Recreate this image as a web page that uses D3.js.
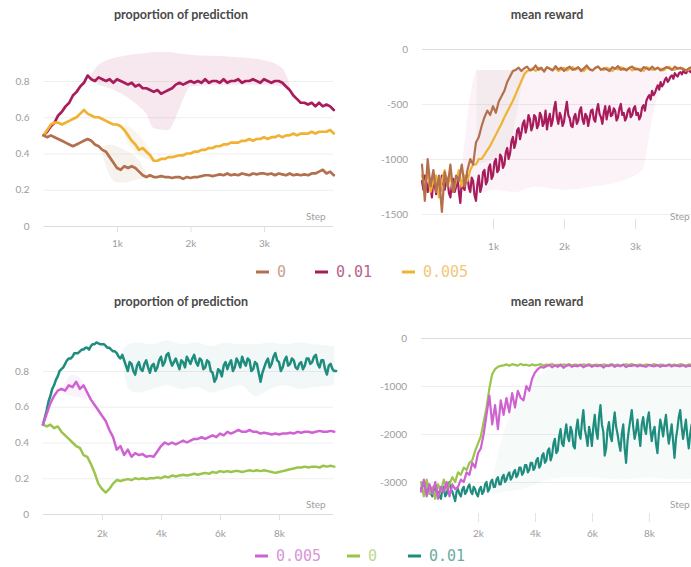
<!DOCTYPE html>
<html>
<head>
<meta charset="utf-8">
<script src="https://cdn.jsdelivr.net/npm/d3@7"></script>
<style>
  html, body { margin: 0; padding: 0; background: #fff; overflow: hidden; }
  svg { display: block; }
</style>
</head>
<body>
<svg id="chart" width="691" height="567"></svg>
<script>
// ---------- logging intervals (steps between recorded points) ----------
const STEP_TOP_PROP = 50;
const STEP_TOP_REWARD = 40;
const STEP_TOP_REWARD_FINE = 20;
const STEP_BOT_PROP = 125;
const STEP_BOT_PROP_FINE = 62.5;
const STEP_BOT_REWARD = 100;
const STEP_BOT_REWARD_FINE = 50;

// ---------- tick labels ----------
const propTicks = [0, 0.2, 0.4, 0.6, 0.8];
const topRewardTicks = [0, -500, -1000, -1500];
const botRewardTicks = [0, -1000, -2000, -3000];
const topStepTicks = [1000, 2000, 3000];
const botStepTicks = [2000, 4000, 6000, 8000];

// ---------- run groups ----------
const topRuns = ["0", "0.01", "0.005"];
const botRuns = ["0.005", "0", "0.01"];

// ---------- top row: proportion of prediction ----------
const topProp_0 = [
  0.50,0.49,0.50,0.49,0.48,0.47,0.46,0.45,0.44,0.45,
  0.46,0.47,0.48,0.47,0.45,0.44,0.42,0.41,0.38,0.35,
  0.32,0.31,0.33,0.32,0.33,0.32,0.30,0.28,0.27,0.28,
  0.27,0.27,0.275,0.27,0.27,0.265,0.27,0.27,0.26,0.27,
  0.265,0.27,0.27,0.275,0.28,0.28,0.275,0.28,0.285,0.28,
  0.29,0.28,0.285,0.28,0.29,0.285,0.28,0.29,0.285,0.29,
  0.29,0.285,0.29,0.28,0.29,0.285,0.28,0.29,0.28,0.285,
  0.28,0.285,0.28,0.29,0.29,0.30,0.31,0.29,0.30,0.28];
const topProp_001 = [
  0.50,0.52,0.55,0.57,0.61,0.63,0.66,0.68,0.72,0.74,
  0.77,0.79,0.83,0.81,0.80,0.82,0.81,0.80,0.81,0.79,
  0.81,0.80,0.79,0.78,0.79,0.77,0.78,0.76,0.76,0.75,
  0.74,0.75,0.73,0.74,0.75,0.76,0.78,0.79,0.78,0.79,
  0.80,0.79,0.80,0.79,0.81,0.79,0.80,0.80,0.79,0.81,
  0.79,0.80,0.80,0.81,0.79,0.80,0.80,0.81,0.80,0.79,
  0.81,0.80,0.79,0.80,0.80,0.79,0.77,0.75,0.72,0.70,
  0.68,0.68,0.67,0.68,0.66,0.68,0.66,0.67,0.66,0.64];
const topProp_0005 = [
  0.50,0.53,0.56,0.57,0.57,0.56,0.57,0.58,0.59,0.60,
  0.62,0.64,0.62,0.61,0.60,0.60,0.59,0.58,0.57,0.56,
  0.56,0.55,0.53,0.50,0.47,0.45,0.42,0.43,0.41,0.39,
  0.36,0.36,0.37,0.37,0.38,0.38,0.385,0.39,0.39,0.40,
  0.40,0.41,0.41,0.42,0.42,0.43,0.43,0.44,0.44,0.45,
  0.45,0.46,0.46,0.46,0.47,0.47,0.48,0.47,0.48,0.48,
  0.49,0.48,0.49,0.49,0.50,0.49,0.50,0.50,0.51,0.50,
  0.51,0.51,0.51,0.52,0.51,0.52,0.52,0.52,0.53,0.51];
// min/max envelopes across seeds: [step, min, max]
const topPropBand_001 = [
  [650,0.80,0.84],[750,0.78,0.89],[900,0.76,0.92],[1100,0.72,0.94],[1300,0.66,0.95],
  [1400,0.62,0.955],[1500,0.54,0.96],[1700,0.53,0.96],[1800,0.60,0.955],[1900,0.70,0.95],
  [2000,0.77,0.945],[2500,0.78,0.935],[3000,0.78,0.915],[3250,0.77,0.87],[3350,0.75,0.78]];
const topPropBand_0 = [
  [800,0.40,0.44],[900,0.28,0.45],[1000,0.24,0.44],[1100,0.24,0.42],
  [1200,0.25,0.40],[1300,0.26,0.36],[1400,0.26,0.29]];
const topPropBand_0005 = [
  [1100,0.50,0.56],[1200,0.43,0.54],[1300,0.39,0.50],[1400,0.37,0.45],[1500,0.35,0.38]];

// ---------- top row: mean reward ----------
const topReward_0 = [
  -1050,-1380,-1000,-1250,-1100,-1300,-1150,-1480,-1120,-1250,
  -1050,-1300,-1150,-1200,-1050,-1250,-1100,-1000,-1050,-850,
  -800,-700,-620,-560,-600,-520,-580,-480,-430,-380,
  -300,-250,-200,-190,-170,-200,-175,-160,-195,-185,
  -150,-190,-170,-205,-165,-180,-195,-155,-185,-170,
  -200,-175,-160,-190,-180,-165,-200,-175,-150,-185,
  -195,-170,-160,-190,-175,-185,-200,-165,-180,-155,
  -190,-175,-195,-170,-160,-185,-180,-200,-165,-175,
  -190,-160,-185,-170,-195,-180,-165,-175,-190,-160,
  -180,-170,-185,-195,-175,-165,-180,-190,-170,-175];
const topReward_001 = [
  -1200,-1280,-1150,-1220,-1300,-1190,-1250,-1350,-1180,-1240,-1320,-1200,-1220,-1290,-1150,-1230,-1280,-1160,-1200,-1310,
  -1350,-1230,-1180,-1300,-1250,-1160,-1300,-1400,-1200,-1260,-1280,-1180,-1150,-1260,-1300,-1170,-1200,-1330,-1380,-1230,
  -1150,-1300,-1250,-1120,-1100,-1230,-1200,-1080,-1050,-1180,-1150,-1030,-1000,-1120,-1100,-960,-980,-1080,-1050,-940,
  -900,-1000,-950,-840,-800,-900,-850,-740,-720,-820,-760,-680,-650,-760,-700,-600,-640,-740,-700,-600,
  -620,-720,-690,-580,-610,-700,-670,-560,-730,-640,-590,-700,-650,-540,-480,-620,-680,-580,-620,-700,
  -660,-560,-480,-600,-630,-700,-710,-620,-590,-680,-650,-560,-530,-640,-680,-590,-610,-700,-630,-560,
  -550,-640,-660,-560,-500,-590,-620,-680,-580,-520,-640,-570,-520,-610,-600,-540,-560,-650,-620,-540,
  -500,-600,-580,-650,-620,-560,-540,-620,-600,-540,-520,-600,-580,-640,-610,-530,-510,-560,-470,-440,
  -420,-460,-380,-420,-400,-360,-330,-370,-300,-340,-320,-280,-260,-300,-280,-250,-240,-270,-220,-240,
  -250,-220,-210,-230,-200,-215,-220,-195,-190,-210,-200,-185,-180,-200,-195,-180,-175,-195,-185,-180];
const topReward_0005 = [
  -1150,-1250,-1100,-1300,-1200,-1150,-1350,-1200,-1100,-1250,
  -1150,-1300,-1200,-1100,-1250,-1150,-1200,-1100,-1050,-1050,
  -1000,-1000,-960,-920,-880,-830,-780,-730,-680,-620,
  -570,-520,-470,-410,-350,-290,-230,-200,-190,-175,
  -200,-170,-185,-195,-165,-180,-190,-175,-200,-185,
  -170,-195,-180,-165,-190,-175,-185,-200,-170,-180,
  -195,-175,-160,-185,-190,-170,-180,-200,-175,-185,
  -165,-190,-180,-175,-195,-170,-185,-180,-200,-165,
  -175,-190,-185,-170,-180,-195,-175,-160,-185,-190,
  -170,-180,-175,-195,-185,-170,-180,-190,-175,-185];
const topRewardBand_001 = [
  [550,-1300,-1150],[780,-1320,-190],[1000,-1280,-190],[1300,-1300,-190],[1600,-1250,-190],
  [2000,-1280,-190],[2400,-1250,-190],[2800,-1200,-190],[3100,-1100,-190],[3250,-600,-190],
  [3350,-350,-190],[3450,-260,-190]];
const topRewardBand_0 = [
  [770,-1050,-190],[1000,-1000,-190],[1200,-900,-190],[1300,-700,-190],[1400,-350,-190],[1500,-210,-190]];

// ---------- bottom row: proportion of prediction ----------
const botProp_0005 = [
  0.50,0.56,0.62,0.66,0.69,0.70,0.69,0.72,0.71,0.74,
  0.70,0.72,0.68,0.64,0.61,0.58,0.55,0.52,0.47,0.43,
  0.36,0.38,0.33,0.36,0.32,0.34,0.33,0.335,0.32,0.325,
  0.32,0.35,0.38,0.40,0.39,0.40,0.39,0.40,0.41,0.40,
  0.41,0.42,0.42,0.43,0.42,0.43,0.44,0.43,0.45,0.44,
  0.46,0.45,0.46,0.47,0.46,0.46,0.47,0.46,0.46,0.45,
  0.455,0.45,0.445,0.45,0.445,0.45,0.45,0.455,0.45,0.46,
  0.455,0.46,0.46,0.455,0.46,0.465,0.46,0.46,0.465,0.46];
const botProp_0 = [
  0.50,0.49,0.50,0.48,0.49,0.46,0.44,0.42,0.40,0.38,
  0.37,0.33,0.32,0.28,0.23,0.17,0.14,0.12,0.14,0.17,
  0.19,0.185,0.19,0.195,0.19,0.20,0.195,0.20,0.195,0.20,
  0.20,0.205,0.20,0.21,0.205,0.215,0.21,0.215,0.22,0.215,
  0.22,0.225,0.22,0.225,0.23,0.225,0.235,0.23,0.24,0.235,
  0.24,0.235,0.24,0.24,0.235,0.24,0.245,0.24,0.245,0.24,
  0.245,0.24,0.235,0.23,0.235,0.24,0.245,0.25,0.255,0.26,
  0.26,0.265,0.26,0.265,0.265,0.26,0.27,0.265,0.27,0.265];
const botProp_001 = [
  0.50,0.54,0.58,0.63,0.66,0.70,0.72,0.75,0.77,0.80,0.81,0.82,0.84,0.86,0.87,0.87,0.88,0.90,0.90,0.90,
  0.91,0.92,0.92,0.93,0.93,0.92,0.94,0.95,0.95,0.96,0.955,0.95,0.95,0.95,0.94,0.93,0.93,0.92,0.91,0.91,
  0.90,0.88,0.87,0.89,0.86,0.83,0.80,0.85,0.84,0.80,0.78,0.83,0.85,0.81,0.80,0.84,0.86,0.82,0.79,0.83,
  0.84,0.80,0.82,0.86,0.88,0.83,0.85,0.89,0.90,0.86,0.83,0.85,0.87,0.84,0.81,0.86,0.85,0.82,0.88,0.86,
  0.84,0.87,0.89,0.85,0.83,0.87,0.86,0.81,0.82,0.86,0.85,0.80,0.79,0.74,0.76,0.81,0.80,0.77,0.83,0.85,
  0.81,0.84,0.86,0.80,0.82,0.87,0.85,0.82,0.88,0.85,0.83,0.87,0.86,0.80,0.81,0.85,0.84,0.79,0.74,0.79,
  0.82,0.85,0.87,0.82,0.84,0.88,0.90,0.86,0.85,0.80,0.82,0.86,0.88,0.83,0.84,0.87,0.86,0.82,0.81,0.84,
  0.85,0.81,0.83,0.87,0.87,0.84,0.85,0.88,0.89,0.84,0.82,0.86,0.86,0.81,0.78,0.83,0.84,0.81,0.80,0.80];
const botPropBand_001 = [
  [2700,0.84,0.92],[2900,0.70,0.95],[3200,0.68,0.96],[3700,0.70,0.95],[4200,0.72,0.97],
  [4700,0.70,0.95],[5200,0.71,0.96],[5700,0.68,0.94],[6200,0.70,0.96],[6700,0.72,0.95],
  [7200,0.66,0.95],[7700,0.70,0.96],[8200,0.72,0.95],[8700,0.70,0.96],[9200,0.71,0.95],[9875,0.72,0.94]];
const botPropBand_0005 = [[700,0.67,0.72],[1000,0.66,0.78],[1300,0.65,0.75],[1500,0.64,0.70]];

// ---------- bottom row: mean reward ----------
const botReward_0005 = [
  -3200,-2950,-3300,-3050,-3250,-3000,-3350,-3100,-3200,-3000,
  -3300,-3050,-3150,-3100,-2950,-3000,-2800,-2850,-2600,-2700,
  -2400,-2300,-2000,-1600,-1200,-1800,-1400,-1900,-1300,-1600,
  -1250,-1550,-1150,-1450,-1100,-1250,-1300,-1000,-1100,-850,
  -720,-650,-600,-620,-590,-560,-610,-570,-600,-550,
  -620,-580,-560,-600,-575,-590,-555,-610,-580,-565,
  -600,-570,-590,-560,-615,-575,-585,-560,-600,-570,
  -590,-555,-605,-575,-580,-560,-595,-570,-585,-600,
  -560,-580,-590,-565,-600,-575,-585,-560,-595,-570,
  -580,-590,-565,-600,-575,-585,-560,-590,-575,-580];
const botReward_0 = [
  -3000,-3300,-2950,-3250,-3100,-3350,-3050,-3200,-2950,-3150,
  -3050,-2900,-3000,-2800,-2850,-2700,-2750,-2600,-2550,-2350,
  -2200,-2050,-1750,-1450,-1050,-750,-650,-600,-580,-570,
  -550,-580,-545,-560,-575,-540,-565,-555,-580,-550,
  -570,-560,-545,-575,-555,-565,-540,-570,-560,-580,
  -550,-565,-545,-570,-555,-560,-575,-550,-565,-545,
  -570,-560,-555,-580,-550,-565,-560,-545,-570,-555,
  -575,-560,-550,-565,-540,-570,-560,-555,-575,-550,
  -565,-560,-545,-570,-555,-560,-580,-550,-565,-555,
  -570,-545,-560,-575,-550,-565,-560,-555,-570,-560];
const botReward_001 = [
  -3150,-3050,-3000,-3200,-3250,-3050,-3100,-3250,-3300,-3150,-3050,-3250,-3200,-3300,-3350,-3150,-3100,-3300,-3250,-3100,
  -3000,-3150,-3200,-3300,-3400,-3200,-3150,-3250,-3300,-3150,-3100,-3250,-3200,-3100,-3050,-3200,-3250,-3100,-3150,-3250,
  -3300,-3150,-3100,-3250,-3200,-3050,-3000,-3200,-3150,-3000,-2950,-3100,-3100,-2950,-2900,-3050,-3050,-2900,-2850,-3000,
  -2950,-2850,-2800,-2950,-2900,-2800,-2750,-2900,-2850,-2700,-2700,-2850,-2800,-2650,-2650,-2800,-2750,-2600,-2600,-2750,
  -2700,-2550,-2500,-2700,-2650,-2450,-2400,-2600,-2550,-2350,-2300,-2550,-2450,-2200,-2100,-2400,-2350,-2050,-1900,-2200,
  -2250,-2000,-1800,-2050,-2150,-1850,-1950,-2250,-2300,-1900,-1700,-2000,-2100,-1750,-1500,-1900,-2050,-2250,-1850,-2000,
  -2250,-1850,-1600,-1950,-2100,-1650,-1400,-1800,-1950,-2450,-2300,-1900,-1750,-2050,-2150,-1800,-1550,-1850,-2000,-2200,
  -2350,-2000,-1800,-2300,-2600,-2150,-1900,-1700,-1500,-1850,-2100,-1950,-1700,-2000,-2250,-1800,-1650,-1900,-2000,-1700,
  -1550,-1900,-2150,-1950,-1850,-2200,-2400,-2000,-1700,-1850,-2050,-1800,-1600,-1950,-2200,-2000,-1800,-2150,-2500,-2100,
  -1900,-1650,-1500,-1850,-2100,-1900,-1700,-2050,-2300,-2000,-1800,-1950,-2000,-2150,-1900,-1750,-2100,-2000,-1950,-1850];
const botRewardBand_001 = [
  [2500,-3250,-2900],[3000,-3200,-1800],[3500,-3150,-1300],[4000,-3050,-900],[4500,-2950,-650],
  [5000,-2900,-600],[6000,-2900,-600],[7000,-2950,-600],[8000,-2900,-600],[9000,-2950,-600],[9900,-2900,-600]];

// ---------- colours per run ----------
const topColors = { "0": "#b3704e", "0.01": "#a81c5c", "0.005": "#f0b232" };
const topText   = { "0": "#c9a18e", "0.01": "#b8658c", "0.005": "#f3c77c" };
const botColors = { "0.005": "#d061d3", "0": "#9ac44a", "0.01": "#1f8d7e" };
const botText   = { "0.005": "#d996da", "0": "#bcd98f", "0.01": "#6aaca2" };

// ---------- drawing ----------
const svg = d3.select("#chart");
const FONT = "Lato, 'Open Sans', 'DejaVu Sans', sans-serif";
const MONO = "'DejaVu Sans Mono', 'Liberation Mono', monospace";

const toPoints = (vals, interval) => vals.map((v, i) => ({ step: i * interval, v }));

function drawPanel(p) {
  const g = svg.append("g");
  const gridW = p.gridX1 - p.x.range()[0];

  g.append("text")
    .attr("x", p.titleX).attr("y", p.titleY)
    .attr("text-anchor", "middle").attr("dominant-baseline", "middle")
    .attr("font-family", FONT).attr("font-weight", 700).attr("font-size", 12.5)
    .attr("fill", "#4a4a4a").text(p.title);

  // horizontal grid with value labels
  const yAxis = d3.axisLeft(p.y).tickValues(p.yTicks).tickFormat(p.yFormat)
    .tickSizeInner(-gridW).tickSizeOuter(0).tickPadding(14);
  const ya = g.append("g").attr("transform", `translate(${p.x.range()[0]},0)`).call(yAxis);
  ya.select(".domain").remove();
  ya.selectAll(".tick line").attr("stroke", d => d === p.baseValue ? "#dcdcdc" : "#eeeeee").attr("stroke-width", 1);
  ya.selectAll(".tick text").attr("font-family", FONT).attr("font-size", 10).attr("fill", "#9c9c9c");

  // step axis
  const xAxis = d3.axisBottom(p.x).tickValues(p.xTicks).tickFormat(d => (d / 1000) + "k")
    .tickSizeInner(p.tickLen).tickSizeOuter(0).tickPadding(p.tickPad);
  const xa = g.append("g").attr("transform", `translate(0,${p.axisY})`).call(xAxis);
  xa.select(".domain").remove();
  xa.selectAll(".tick line").attr("stroke", "#e2e2e2");
  xa.selectAll(".tick text").attr("font-family", FONT).attr("font-size", 10).attr("fill", "#9c9c9c");

  g.append("text").attr("x", p.stepX).attr("y", p.stepY)
    .attr("dominant-baseline", "middle")
    .attr("font-family", FONT).attr("font-size", 10).attr("fill", "#a0a0a0").text("Step");

  // min/max envelopes
  const area = d3.area().x(d => p.x(d[0])).y0(d => p.y(d[1])).y1(d => p.y(d[2])).curve(d3.curveMonotoneX);
  p.bands.forEach(b => {
    g.append("path").attr("d", area(b.data)).attr("fill", b.color).attr("fill-opacity", b.opacity);
  });

  // runs
  const line = d3.line().x(d => p.x(d.step)).y(d => p.y(d.v));
  p.series.forEach(s => {
    g.append("path").attr("d", line(toPoints(s.values, s.interval)))
      .attr("fill", "none").attr("stroke", s.color).attr("stroke-width", p.lineWidth)
      .attr("stroke-linejoin", "round").attr("stroke-linecap", "round");
  });
}

function drawLegend(items, y) {
  const g = svg.append("g");
  items.forEach(it => {
    g.append("line").attr("x1", it.x).attr("x2", it.x + 13).attr("y1", y).attr("y2", y)
      .attr("stroke", it.color).attr("stroke-width", 3);
    g.append("text").attr("x", it.x + 21).attr("y", y).attr("dominant-baseline", "central")
      .attr("font-family", MONO).attr("font-size", 15).attr("fill", it.textColor).text(it.label);
  });
}

const fmtProp = d => d === 0 ? "0" : d3.format(".1f")(d);
const fmtInt = d => d === 0 ? "0" : String(d);

// top-left
drawPanel({
  title: "proportion of prediction", titleX: 181, titleY: 16,
  x: d3.scaleLinear().domain([0, 3950]).range([43.5, 333.8]),
  y: d3.scaleLinear().domain([0, 1]).range([226, 44.75]),
  gridX1: 333, yTicks: propTicks, yFormat: fmtProp, baseValue: 0,
  xTicks: topStepTicks, axisY: 226, tickLen: 6, tickPad: 8,
  stepX: 306, stepY: 217, lineWidth: 2.7,
  bands: [
    { data: topPropBand_001, color: topColors["0.01"], opacity: 0.1 },
    { data: topPropBand_0, color: "#e2d4c6", opacity: 0.3 },
    { data: topPropBand_0005, color: "#efe2c8", opacity: 0.3 }
  ],
  series: [
    { values: topProp_001, interval: STEP_TOP_PROP, color: topColors["0.01"] },
    { values: topProp_0005, interval: STEP_TOP_PROP, color: topColors["0.005"] },
    { values: topProp_0, interval: STEP_TOP_PROP, color: topColors["0"] }
  ]
});

// top-right
drawPanel({
  title: "mean reward", titleX: 547, titleY: 16,
  x: d3.scaleLinear().domain([0, 3950]).range([422, 702.5]),
  y: d3.scaleLinear().domain([-1500, 0]).range([214, 49]),
  gridX1: 700, yTicks: topRewardTicks, yFormat: fmtInt, baseValue: 0,
  xTicks: topStepTicks, axisY: 219, tickLen: 10, tickPad: 14,
  stepX: 670, stepY: 217, lineWidth: 2.2,
  bands: [
    { data: topRewardBand_001, color: topColors["0.01"], opacity: 0.05 },
    { data: topRewardBand_0, color: "#ddd5d0", opacity: 0.25 }
  ],
  series: [
    { values: topReward_001, interval: STEP_TOP_REWARD_FINE, color: topColors["0.01"] },
    { values: topReward_0005, interval: STEP_TOP_REWARD, color: topColors["0.005"] },
    { values: topReward_0, interval: STEP_TOP_REWARD, color: topColors["0"] }
  ]
});

// bottom-left
drawPanel({
  title: "proportion of prediction", titleX: 181, titleY: 303,
  x: d3.scaleLinear().domain([0, 9875]).range([43, 334.3]),
  y: d3.scaleLinear().domain([0, 1]).range([514, 335.25]),
  gridX1: 333, yTicks: propTicks, yFormat: fmtProp, baseValue: 0,
  xTicks: botStepTicks, axisY: 514, tickLen: 6, tickPad: 10,
  stepX: 306, stepY: 505, lineWidth: 2.5,
  bands: [
    { data: botPropBand_001, color: botColors["0.01"], opacity: 0.06 },
    { data: botPropBand_0005, color: botColors["0.005"], opacity: 0.08 }
  ],
  series: [
    { values: botProp_001, interval: STEP_BOT_PROP_FINE, color: botColors["0.01"] },
    { values: botProp_0, interval: STEP_BOT_PROP, color: botColors["0"] },
    { values: botProp_0005, interval: STEP_BOT_PROP, color: botColors["0.005"] }
  ]
});

// bottom-right
drawPanel({
  title: "mean reward", titleX: 547, titleY: 303,
  x: d3.scaleLinear().domain([0, 9900]).range([421, 703]),
  y: d3.scaleLinear().domain([-3000, 0]).range([482, 338]),
  gridX1: 700, yTicks: botRewardTicks, yFormat: fmtInt, baseValue: 0,
  xTicks: botStepTicks, axisY: 513, tickLen: 9, tickPad: 8,
  stepX: 670, stepY: 505, lineWidth: 2.2,
  bands: [
    { data: botRewardBand_001, color: botColors["0.01"], opacity: 0.04 }
  ],
  series: [
    { values: botReward_001, interval: STEP_BOT_REWARD_FINE, color: botColors["0.01"] },
    { values: botReward_0, interval: STEP_BOT_REWARD, color: botColors["0"] },
    { values: botReward_0005, interval: STEP_BOT_REWARD, color: botColors["0.005"] }
  ]
});

// legends
const topLegendX = [256, 315, 402];
drawLegend(topRuns.map((r, i) => ({ x: topLegendX[i], label: r, color: topColors[r], textColor: topText[r] })), 272);
const botLegendX = [255, 347, 408];
drawLegend(botRuns.map((r, i) => ({ x: botLegendX[i], label: r, color: botColors[r], textColor: botText[r] })), 556);
</script>
</body>
</html>
